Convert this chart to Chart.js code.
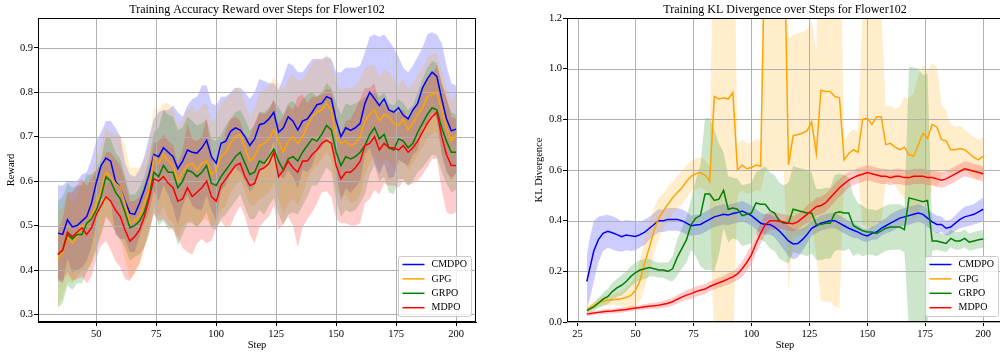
<!DOCTYPE html>
<html>
<head>
<meta charset="utf-8">
<script src="https://cdn.jsdelivr.net/npm/chart.js@4.4.1/dist/chart.umd.min.js"></script>
<style>
html, body { margin: 0; padding: 0; background: #fff; overflow: hidden; width: 1000px; height: 352px; }
#accChart { position: absolute; left: 0; top: 0; }
#klChart { position: absolute; left: 500px; top: 0; }
</style>
</head>
<body>
<canvas id="accChart" width="500" height="352"></canvas>
<canvas id="klChart" width="520" height="352"></canvas>
<script>
// Step axes (every 2nd training step)
function range(a, b, step) { const out = []; for (let v = a; v <= b; v += step) out.push(v); return out; }
const accSteps = range(34, 200, 2);
const klSteps = [29].concat(range(30, 200, 2));

const seriesNames = ['CMDPO', 'GPG', 'GRPO', 'MDPO'];

// Tick labels
const accXTicks = [50, 75, 100, 125, 150, 175, 200];
const accYTicks = [0.3, 0.4, 0.5, 0.6, 0.7, 0.8, 0.9];
const klXTicks = [25, 50, 75, 100, 125, 150, 175, 200];
const klYTicks = [0.0, 0.2, 0.4, 0.6, 0.8, 1.0, 1.2];

// Training accuracy reward (mean and std), steps 34..200
const accCMDPO = [0.483, 0.48, 0.513, 0.497, 0.50, 0.51, 0.52, 0.55, 0.597, 0.635,
  0.652, 0.645, 0.60, 0.585, 0.555, 0.528, 0.525, 0.55, 0.58, 0.615,
  0.66, 0.655, 0.675, 0.665, 0.655, 0.628, 0.645, 0.67, 0.665, 0.663,
  0.675, 0.692, 0.655, 0.64, 0.685, 0.69, 0.712, 0.72, 0.715, 0.70,
  0.68, 0.695, 0.727, 0.73, 0.74, 0.755, 0.71, 0.72, 0.745, 0.735,
  0.715, 0.735, 0.74, 0.755, 0.772, 0.775, 0.79, 0.785, 0.735, 0.70,
  0.72, 0.714, 0.72, 0.73, 0.775, 0.80, 0.785, 0.77, 0.785, 0.76,
  0.755, 0.765, 0.748, 0.74, 0.76, 0.775, 0.81, 0.83, 0.845, 0.835,
  0.785, 0.74, 0.713, 0.717];
const accCMDPOStd = [0.107, 0.11, 0.087, 0.103, 0.10, 0.105, 0.10, 0.10, 0.093, 0.075,
  0.083, 0.09, 0.12, 0.115, 0.085, 0.087, 0.085, 0.075, 0.075, 0.085,
  0.08, 0.10, 0.085, 0.095, 0.115, 0.127, 0.10, 0.10, 0.12, 0.127,
  0.14, 0.123, 0.12, 0.13, 0.105, 0.10, 0.088, 0.09, 0.095, 0.10,
  0.105, 0.105, 0.103, 0.095, 0.08, 0.065, 0.095, 0.115, 0.12, 0.125,
  0.13, 0.11, 0.12, 0.12, 0.103, 0.10, 0.09, 0.09, 0.11, 0.145,
  0.135, 0.141, 0.135, 0.13, 0.115, 0.125, 0.145, 0.155, 0.145, 0.155,
  0.145, 0.115, 0.107, 0.105, 0.10, 0.105, 0.09, 0.10, 0.09, 0.095,
  0.125, 0.12, 0.107, 0.098];
const accGPG = [0.425, 0.44, 0.475, 0.46, 0.475, 0.50, 0.50, 0.52, 0.55, 0.58,
  0.62, 0.61, 0.595, 0.585, 0.55, 0.505, 0.51, 0.52, 0.55, 0.58,
  0.655, 0.64, 0.66, 0.645, 0.635, 0.60, 0.62, 0.635, 0.64, 0.625,
  0.64, 0.645, 0.615, 0.625, 0.655, 0.665, 0.685, 0.70, 0.705, 0.675,
  0.645, 0.655, 0.68, 0.685, 0.695, 0.715, 0.69, 0.665, 0.69, 0.70,
  0.685, 0.70, 0.725, 0.745, 0.755, 0.76, 0.775, 0.76, 0.70, 0.685,
  0.69, 0.68, 0.685, 0.70, 0.735, 0.75, 0.76, 0.735, 0.75, 0.745,
  0.73, 0.725, 0.74, 0.715, 0.73, 0.75, 0.765, 0.79, 0.795, 0.80,
  0.76, 0.72, 0.69, 0.705];
const accGPGStd = [0.11, 0.1, 0.1, 0.09, 0.09, 0.1, 0.1, 0.1, 0.1, 0.1,
  0.1, 0.1, 0.11, 0.12, 0.13, 0.125, 0.12, 0.11, 0.1, 0.1,
  0.11, 0.12, 0.115, 0.13, 0.13, 0.125, 0.12, 0.125, 0.13, 0.13,
  0.13, 0.13, 0.12, 0.12, 0.12, 0.12, 0.11, 0.11, 0.1, 0.1,
  0.1, 0.11, 0.12, 0.12, 0.12, 0.12, 0.13, 0.14, 0.14, 0.14,
  0.14, 0.13, 0.12, 0.12, 0.12, 0.11, 0.11, 0.11, 0.12, 0.12,
  0.12, 0.13, 0.13, 0.13, 0.12, 0.11, 0.1, 0.1, 0.1, 0.1,
  0.1, 0.09, 0.09, 0.09, 0.09, 0.09, 0.09, 0.09, 0.09, 0.09,
  0.09, 0.09, 0.09, 0.09];
const accGRPO = [0.435, 0.445, 0.48, 0.47, 0.48, 0.48, 0.505, 0.515, 0.535, 0.565,
  0.61, 0.60, 0.575, 0.56, 0.53, 0.495, 0.50, 0.51, 0.53, 0.565,
  0.62, 0.61, 0.635, 0.62, 0.62, 0.585, 0.60, 0.625, 0.62, 0.61,
  0.62, 0.635, 0.595, 0.59, 0.61, 0.625, 0.64, 0.655, 0.665, 0.64,
  0.615, 0.62, 0.645, 0.64, 0.655, 0.672, 0.645, 0.625, 0.65, 0.655,
  0.645, 0.665, 0.68, 0.695, 0.69, 0.705, 0.725, 0.715, 0.665, 0.635,
  0.655, 0.65, 0.655, 0.665, 0.68, 0.705, 0.72, 0.695, 0.705, 0.675,
  0.67, 0.695, 0.69, 0.675, 0.685, 0.71, 0.73, 0.75, 0.765, 0.76,
  0.72, 0.69, 0.665, 0.665];
const accGRPOStd = [0.12, 0.12, 0.115, 0.115, 0.11, 0.11, 0.11, 0.1, 0.09, 0.085,
  0.09, 0.095, 0.09, 0.09, 0.08, 0.075, 0.07, 0.075, 0.08, 0.085,
  0.09, 0.11, 0.125, 0.13, 0.125, 0.13, 0.12, 0.12, 0.115, 0.115,
  0.11, 0.105, 0.10, 0.10, 0.095, 0.10, 0.1, 0.1, 0.095, 0.10,
  0.10, 0.105, 0.11, 0.115, 0.11, 0.11, 0.12, 0.125, 0.125, 0.125,
  0.12, 0.12, 0.115, 0.105, 0.10, 0.095, 0.095, 0.095, 0.11, 0.115,
  0.12, 0.12, 0.12, 0.115, 0.11, 0.09, 0.085, 0.095, 0.095, 0.10,
  0.10, 0.09, 0.085, 0.085, 0.085, 0.09, 0.10, 0.105, 0.105, 0.105,
  0.1, 0.095, 0.09, 0.085];
const accMDPO = [0.435, 0.445, 0.485, 0.475, 0.485, 0.495, 0.48, 0.495, 0.525, 0.545,
  0.565, 0.555, 0.535, 0.52, 0.49, 0.465, 0.475, 0.49, 0.52, 0.56,
  0.605, 0.60, 0.61, 0.595, 0.585, 0.555, 0.56, 0.585, 0.565, 0.575,
  0.585, 0.60, 0.565, 0.555, 0.59, 0.605, 0.62, 0.635, 0.64, 0.61,
  0.59, 0.595, 0.625, 0.63, 0.64, 0.665, 0.61, 0.625, 0.645, 0.63,
  0.62, 0.645, 0.645, 0.66, 0.67, 0.685, 0.692, 0.685, 0.635, 0.605,
  0.62, 0.62, 0.63, 0.645, 0.68, 0.685, 0.70, 0.67, 0.685, 0.675,
  0.675, 0.67, 0.68, 0.665, 0.675, 0.69, 0.71, 0.73, 0.745, 0.755,
  0.70, 0.66, 0.635, 0.635];
const accMDPOStd = [0.055, 0.07, 0.09, 0.10, 0.105, 0.11, 0.11, 0.11, 0.10, 0.09,
  0.10, 0.11, 0.115, 0.115, 0.11, 0.09, 0.08, 0.075, 0.07, 0.07,
  0.08, 0.09, 0.095, 0.095, 0.095, 0.085, 0.11, 0.145, 0.13, 0.115,
  0.115, 0.14, 0.10, 0.06, 0.08, 0.11, 0.12, 0.11, 0.095, 0.09,
  0.11, 0.135, 0.13, 0.12, 0.12, 0.12, 0.12, 0.12, 0.125, 0.13,
  0.17, 0.15, 0.13, 0.13, 0.12, 0.11, 0.115, 0.12, 0.12, 0.10,
  0.115, 0.12, 0.13, 0.14, 0.13, 0.125, 0.12, 0.10, 0.09, 0.085,
  0.085, 0.085, 0.08, 0.075, 0.08, 0.09, 0.095, 0.10, 0.095, 0.105,
  0.12, 0.13, 0.11, 0.105];

// Training KL divergence (mean and std), steps 29, 30..200
const klCMDPO = [0.16,
  0.20, 0.28, 0.325, 0.35, 0.358, 0.352, 0.345, 0.337, 0.343, 0.34,
  0.338, 0.345, 0.355, 0.37, 0.385, 0.40, 0.40, 0.405, 0.405, 0.405,
  0.40, 0.39, 0.38, 0.383, 0.385, 0.395, 0.405, 0.415, 0.42, 0.425,
  0.422, 0.428, 0.432, 0.438, 0.43, 0.42, 0.405, 0.39, 0.385, 0.385,
  0.375, 0.36, 0.34, 0.32, 0.308, 0.31, 0.325, 0.345, 0.37, 0.38,
  0.39, 0.395, 0.40, 0.40, 0.39, 0.38, 0.37, 0.362, 0.355, 0.345,
  0.34, 0.35, 0.355, 0.37, 0.38, 0.39, 0.40, 0.41, 0.415, 0.42,
  0.425, 0.43, 0.425, 0.41, 0.395, 0.385, 0.385, 0.37, 0.375, 0.39,
  0.405, 0.415, 0.42, 0.425, 0.435, 0.445];
const klCMDPOStd = [0.1,
  0.12, 0.12, 0.09, 0.07, 0.065, 0.065, 0.065, 0.06, 0.06, 0.06,
  0.055, 0.05, 0.05, 0.045, 0.045, 0.045, 0.045, 0.045, 0.045, 0.045,
  0.045, 0.045, 0.04, 0.04, 0.04, 0.04, 0.04, 0.04, 0.04, 0.04,
  0.04, 0.04, 0.04, 0.04, 0.04, 0.04, 0.04, 0.04, 0.04, 0.04,
  0.04, 0.05, 0.055, 0.06, 0.06, 0.055, 0.045, 0.035, 0.03, 0.03,
  0.03, 0.03, 0.03, 0.03, 0.03, 0.03, 0.03, 0.03, 0.025, 0.025,
  0.025, 0.025, 0.03, 0.03, 0.03, 0.035, 0.035, 0.035, 0.035, 0.035,
  0.035, 0.035, 0.035, 0.035, 0.035, 0.035, 0.03, 0.03, 0.03, 0.03,
  0.035, 0.04, 0.04, 0.04, 0.045, 0.045];
const klGPG = [0.05,
  0.055, 0.065, 0.075, 0.082, 0.086, 0.088, 0.09, 0.092, 0.097, 0.105,
  0.125, 0.165, 0.235, 0.295, 0.36, 0.41, 0.437, 0.465, 0.49, 0.51,
  0.53, 0.555, 0.575, 0.585, 0.59, 0.58, 0.555, 0.89, 0.88, 0.885,
  0.88, 0.905, 0.60, 0.62, 0.605, 0.61, 0.62, 0.615, 1.6, 1.6,
  1.6, 1.6, 1.6, 0.62, 0.735, 0.74, 0.745, 0.755, 0.79, 0.665,
  0.915, 0.91, 0.91, 0.89, 0.885, 0.64, 0.665, 0.68, 0.67, 0.80,
  0.805, 0.78, 0.81, 0.81, 0.70, 0.705, 0.69, 0.68, 0.69, 0.66,
  0.655, 0.70, 0.745, 0.725, 0.78, 0.77, 0.72, 0.715, 0.68, 0.68,
  0.685, 0.68, 0.665, 0.65, 0.64, 0.655];
const klGPGStd = [0.01,
  0.012, 0.015, 0.018, 0.02, 0.02, 0.02, 0.025, 0.03, 0.04, 0.05,
  0.06, 0.08, 0.1, 0.1, 0.09, 0.08, 0.07, 0.07, 0.065, 0.065,
  0.065, 0.065, 0.06, 0.06, 0.06, 0.06, 0.06, 1.0, 1.0, 1.0,
  1.0, 1.0, 0.1, 0.1, 0.1, 0.1, 0.1, 0.1, 1.0, 1.0,
  1.0, 1.0, 1.0, 0.5, 0.4, 0.4, 0.4, 0.4, 0.4, 0.4,
  0.83, 0.83, 0.83, 0.83, 0.83, 0.08, 0.08, 0.08, 0.08, 0.42,
  0.42, 0.42, 0.42, 0.42, 0.15, 0.15, 0.15, 0.17, 0.2, 0.22,
  0.25, 0.27, 0.27, 0.27, 0.24, 0.24, 0.14, 0.12, 0.1, 0.09,
  0.09, 0.08, 0.08, 0.08, 0.08, 0.075];
const klGRPO = [0.045,
  0.05, 0.06, 0.075, 0.09, 0.10, 0.12, 0.135, 0.145, 0.16, 0.18,
  0.195, 0.205, 0.21, 0.215, 0.21, 0.205, 0.205, 0.20, 0.21, 0.255,
  0.29, 0.325, 0.385, 0.41, 0.42, 0.505, 0.505, 0.48, 0.485, 0.52,
  0.445, 0.45, 0.445, 0.42, 0.425, 0.43, 0.47, 0.465, 0.465, 0.44,
  0.43, 0.40, 0.39, 0.39, 0.445, 0.44, 0.435, 0.43, 0.43, 0.385,
  0.385, 0.39, 0.39, 0.43, 0.435, 0.43, 0.43, 0.38, 0.37, 0.36,
  0.355, 0.355, 0.35, 0.36, 0.37, 0.375, 0.375, 0.375, 0.365, 0.49,
  0.485, 0.48, 0.475, 0.48, 0.32, 0.32, 0.315, 0.31, 0.33, 0.32,
  0.32, 0.33, 0.315, 0.32, 0.325, 0.328];
const klGRPOStd = [0.01,
  0.012, 0.015, 0.02, 0.025, 0.03, 0.035, 0.035, 0.04, 0.04, 0.04,
  0.04, 0.04, 0.04, 0.035, 0.03, 0.03, 0.03, 0.035, 0.05, 0.07,
  0.08, 0.09, 0.1, 0.15, 0.2, 0.3, 0.3, 0.28, 0.22, 0.15,
  0.13, 0.12, 0.12, 0.12, 0.12, 0.12, 0.12, 0.14, 0.15, 0.15,
  0.15, 0.15, 0.15, 0.16, 0.17, 0.17, 0.17, 0.17, 0.16, 0.14,
  0.14, 0.14, 0.14, 0.15, 0.15, 0.15, 0.14, 0.12, 0.1, 0.1,
  0.09, 0.09, 0.09, 0.09, 0.09, 0.09, 0.09, 0.09, 0.09, 0.52,
  0.52, 0.52, 0.5, 0.5, 0.04, 0.035, 0.035, 0.035, 0.035, 0.035,
  0.035, 0.035, 0.035, 0.035, 0.035, 0.035];
const klMDPO = [0.032,
  0.033, 0.036, 0.038, 0.04, 0.042, 0.043, 0.045, 0.047, 0.049, 0.052,
  0.055, 0.057, 0.06, 0.062, 0.064, 0.066, 0.07, 0.074, 0.08, 0.09,
  0.098, 0.106, 0.112, 0.12, 0.125, 0.13, 0.14, 0.148, 0.155, 0.162,
  0.17, 0.178, 0.19, 0.21, 0.235, 0.265, 0.31, 0.35, 0.385, 0.40,
  0.40, 0.398, 0.395, 0.39, 0.388, 0.395, 0.41, 0.425, 0.44, 0.455,
  0.46, 0.47, 0.49, 0.51, 0.53, 0.545, 0.56, 0.57, 0.578, 0.583,
  0.59, 0.585, 0.58, 0.575, 0.575, 0.57, 0.575, 0.575, 0.57, 0.57,
  0.575, 0.575, 0.575, 0.57, 0.57, 0.565, 0.56, 0.565, 0.575, 0.585,
  0.595, 0.605, 0.60, 0.595, 0.59, 0.585];
const klMDPOStd = [0.008,
  0.008, 0.008, 0.008, 0.008, 0.009, 0.009, 0.01, 0.01, 0.01, 0.01,
  0.01, 0.01, 0.011, 0.012, 0.012, 0.013, 0.014, 0.015, 0.016, 0.017,
  0.018, 0.019, 0.02, 0.02, 0.02, 0.02, 0.02, 0.02, 0.02, 0.02,
  0.022, 0.022, 0.025, 0.03, 0.035, 0.04, 0.04, 0.04, 0.04, 0.035,
  0.035, 0.03, 0.03, 0.03, 0.03, 0.03, 0.03, 0.035, 0.035, 0.035,
  0.035, 0.035, 0.035, 0.035, 0.035, 0.035, 0.03, 0.03, 0.03, 0.03,
  0.03, 0.03, 0.03, 0.03, 0.03, 0.03, 0.03, 0.03, 0.03, 0.03,
  0.03, 0.03, 0.03, 0.03, 0.03, 0.03, 0.03, 0.03, 0.03, 0.03,
  0.03, 0.03, 0.03, 0.03, 0.03, 0.03];

const lineColors = ['#0000ff', '#ffa500', '#008000', '#ff0000'];
const bandColors = ['rgba(0,0,255,0.2)', 'rgba(255,165,0,0.2)', 'rgba(0,128,0,0.2)', 'rgba(255,0,0,0.2)'];
const GRID = '#b0b0b0';
const FONT = "'Liberation Serif', 'Times New Roman', serif";

Chart.defaults.font.family = FONT;
Chart.defaults.color = '#000';

// Build std bands (upper, lower filled to upper) and then the mean lines
function buildDatasets(steps, means, stds) {
  const sets = [];
  means.forEach((mean, k) => {
    const std = stds[k];
    sets.push({
      label: '', data: steps.map((s, i) => ({ x: s, y: mean[i] + std[i] })),
      borderWidth: 0, borderColor: 'rgba(0,0,0,0)', pointRadius: 0, fill: false, order: 20 - k
    });
    sets.push({
      label: '', data: steps.map((s, i) => ({ x: s, y: mean[i] - std[i] })),
      borderWidth: 0, borderColor: 'rgba(0,0,0,0)', pointRadius: 0, fill: '-1',
      backgroundColor: bandColors[k], order: 20 - k
    });
  });
  means.forEach((mean, k) => {
    sets.push({
      label: seriesNames[k], data: steps.map((s, i) => ({ x: s, y: mean[i] })),
      borderColor: lineColors[k], borderWidth: 1.5, pointRadius: 0, fill: false, tension: 0, order: 4 - k
    });
  });
  return sets;
}

// Grid above the shaded bands but below the lines (as matplotlib does)
const gridOverBands = {
  id: 'gridOverBands',
  beforeDatasetDraw(chart, args) {
    if (chart.data.datasets[args.index].label !== seriesNames[0]) return;
    const { ctx, chartArea: a, scales } = chart;
    ctx.save();
    ctx.strokeStyle = GRID;
    ctx.lineWidth = 1;
    ctx.beginPath();
    scales.x.ticks.forEach(t => {
      const px = Math.round(scales.x.getPixelForValue(t.value)) + 0.5;
      ctx.moveTo(px, a.top); ctx.lineTo(px, a.bottom);
    });
    scales.y.ticks.forEach(t => {
      const py = Math.round(scales.y.getPixelForValue(t.value)) + 0.5;
      ctx.moveTo(a.left, py); ctx.lineTo(a.right, py);
    });
    ctx.stroke();
    ctx.restore();
  }
};

// Axes frame plus a matplotlib-like legend in the lower right corner
const frameLegend = {
  id: 'frameLegend',
  afterDraw(chart) {
    const { ctx, chartArea: a } = chart;
    ctx.save();
    ctx.strokeStyle = '#000';
    ctx.lineWidth = 1;
    ctx.strokeRect(Math.round(a.left) + 0.5, Math.round(a.top) + 0.5,
      Math.round(a.right - a.left) - 1, Math.round(a.bottom - a.top) - 1);

    const items = chart.data.datasets.filter(d => d.label);
    const w = 73, h = 60;
    const x = Math.round(a.right - 5 - w) + 0.5, y = Math.round(a.bottom - 6 - h) + 0.5;
    ctx.fillStyle = 'rgba(255,255,255,0.8)';
    ctx.strokeStyle = '#cccccc';
    ctx.beginPath();
    ctx.roundRect(x, y, w, h, 2);
    ctx.fill();
    ctx.stroke();
    ctx.font = '10px ' + FONT;
    ctx.textBaseline = 'middle';
    items.forEach((d, i) => {
      const cy = y + 8 + i * 14.4;
      ctx.strokeStyle = d.borderColor;
      ctx.lineWidth = 1.5;
      ctx.beginPath();
      ctx.moveTo(x + 4, cy);
      ctx.lineTo(x + 26, cy);
      ctx.stroke();
      ctx.fillStyle = '#000';
      ctx.fillText(d.label, x + 33, cy);
    });
    ctx.restore();
  }
};

function makeChart(id, cfg) {
  const tickFont = { family: FONT, size: 10.5 };
  return new Chart(document.getElementById(id), {
    type: 'line',
    data: { datasets: buildDatasets(cfg.steps, cfg.means, cfg.stds) },
    options: {
      responsive: false,
      animation: false,
      layout: { padding: { left: 0, right: cfg.padRight, top: 0, bottom: 0 } },
      scales: {
        x: {
          type: 'linear', min: cfg.xMin, max: cfg.xMax,
          afterBuildTicks: s => { s.ticks = cfg.xTicks.map(v => ({ value: v })); },
          afterFit: s => { s.height = 30; },
          grid: { drawOnChartArea: false, color: GRID, tickColor: '#000', tickLength: 4 },
          border: { color: '#000', width: 1 },
          ticks: { font: tickFont, padding: 2, maxRotation: 0, autoSkip: false, callback: v => v },
          title: { display: true, text: 'Step', font: tickFont, padding: { top: 1, bottom: 0 } }
        },
        y: {
          type: 'linear', min: cfg.yMin, max: cfg.yMax,
          afterBuildTicks: s => { s.ticks = cfg.yTicks.map(v => ({ value: v })); },
          afterFit: s => { s.width = cfg.yWidth; },
          grid: { drawOnChartArea: false, color: GRID, tickColor: '#000', tickLength: 4 },
          border: { color: '#000', width: 1 },
          ticks: { font: tickFont, padding: 1, autoSkip: false, callback: v => Number(v).toFixed(1) },
          title: { display: true, text: cfg.yTitle, font: tickFont, padding: { top: cfg.yTitlePad, bottom: 0 } }
        }
      },
      plugins: {
        legend: { display: false },
        tooltip: { enabled: false },
        title: {
          display: true, text: cfg.title, fullSize: false,
          font: { family: FONT, size: 12, weight: 'normal' },
          padding: { top: 3, bottom: 0.6 }
        }
      }
    },
    plugins: [gridOverBands, frameLegend]
  });
}

makeChart('accChart', {
  steps: accSteps,
  means: [accCMDPO, accGPG, accGRPO, accMDPO],
  stds: [accCMDPOStd, accGPGStd, accGRPOStd, accMDPOStd],
  xMin: 25.7, xMax: 208.3, yMin: 0.283, yMax: 0.967,
  xTicks: accXTicks, yTicks: accYTicks,
  yWidth: 38, yTitlePad: 5, padRight: 24,
  yTitle: 'Reward',
  title: 'Training Accuracy Reward over Steps for Flower102'
});

makeChart('klChart', {
  steps: klSteps,
  means: [klCMDPO, klGPG, klGRPO, klMDPO],
  stds: [klCMDPOStd, klGPGStd, klGRPOStd, klMDPOStd],
  xMin: 20.45, xMax: 208.55, yMin: 0, yMax: 1.2,
  xTicks: klXTicks, yTicks: klYTicks,
  yWidth: 67, yTitlePad: 33, padRight: 17,
  yTitle: 'KL Divergence',
  title: 'Training KL Divergence over Steps for Flower102'
});
</script>
</body>
</html>
